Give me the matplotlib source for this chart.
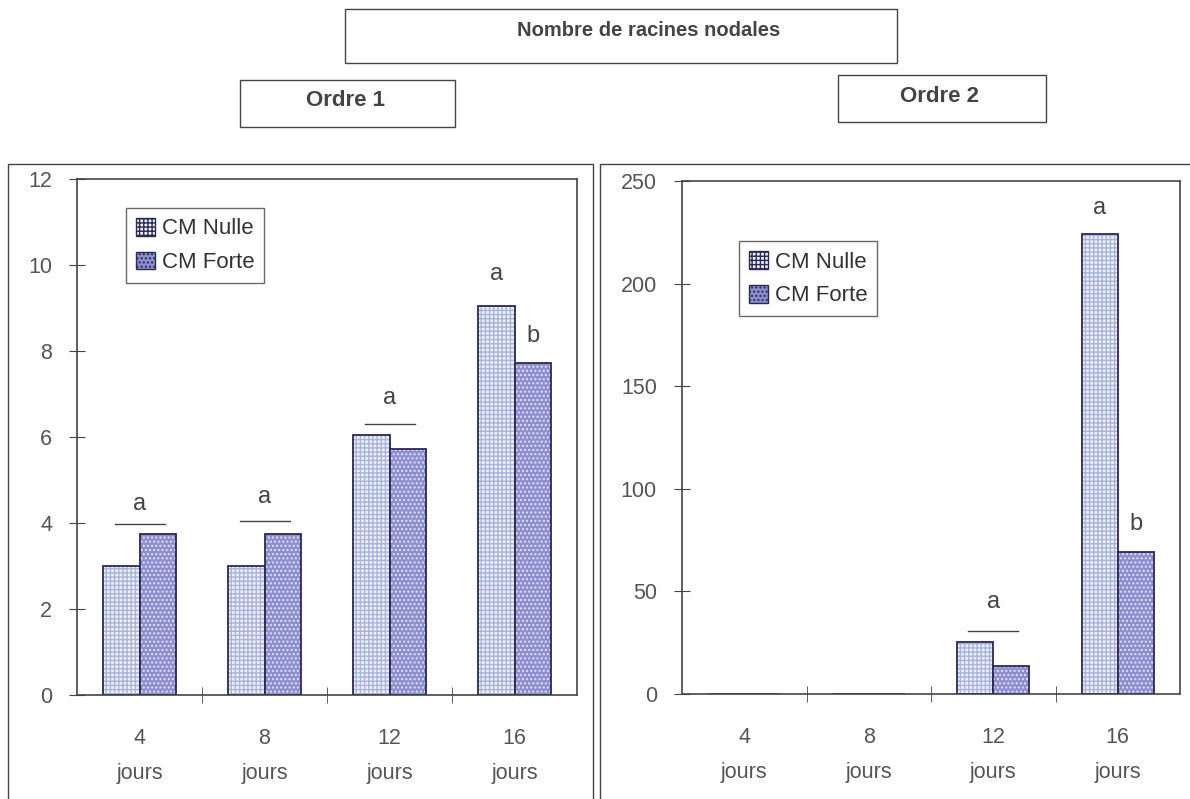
import matplotlib.pyplot as plt
import numpy as np
from matplotlib.patches import Rectangle

plt.rcParams['font.family'] = ['Liberation Sans', 'DejaVu Sans']

days = ['4\njours', '8\njours', '12\njours', '16\njours']
series = ['CM Nulle', 'CM Forte']

# Ordre 1
o1_nulle = [3.0, 3.0, 6.05, 9.05]
o1_forte = [3.75, 3.75, 5.72, 7.72]
# Ordre 2
o2_nulle = [0, 0, 25.5, 224]
o2_forte = [0, 0, 13.5, 69]

# significance letters: (category, offset from centre, height, letter, line height)
o1_letters = [(0, 0, 4.45, 'a', 3.97), (1, 0, 4.6, 'a', 4.05),
              (2, 0, 6.9, 'a', 6.3), (3, -0.145, 9.8, 'a', None),
              (3, 0.145, 8.35, 'b', None)]
o2_letters = [(2, 0, 45, 'a', 30.5), (3, -0.145, 237, 'a', None),
              (3, 0.145, 83, 'b', None)]

c_text = '#555555'
c_edge = '#2a2a55'

fig = plt.figure(figsize=(11.9, 7.99), dpi=100)


def fig_box(x0, y0, x1, y1, lw=1.0):
    # pixel coords (top-left origin) -> figure fraction
    W, H = 1190, 799
    fig.patches.append(Rectangle((x0 / W, 1 - y1 / H), (x1 - x0) / W, (y1 - y0) / H,
                                 transform=fig.transFigure, fill=False,
                                 edgecolor='#444444', lw=lw))


# header boxes
fig_box(345, 9, 897, 63)
fig.text(649 / 1190, 1 - 30 / 799, 'Nombre de racines nodales', ha='center', va='center',
         fontsize=14.5, fontweight='bold', color='#444444')
fig_box(240, 80, 455, 127)
fig.text(345 / 1190, 1 - 101 / 799, 'Ordre 1', ha='center', va='center',
         fontsize=16, fontweight='bold', color='#444444')
fig_box(838, 75, 1046, 122)
fig.text(940 / 1190, 1 - 96 / 799, 'Ordre 2', ha='center', va='center',
         fontsize=16, fontweight='bold', color='#444444')
# panel frames
fig_box(8, 164, 593, 805)
fig_box(600, 164, 1195, 805)


def panel(rect, nulle, forte, ymax, ystep, letters, leg_anchor):
    ax = fig.add_axes(rect)
    x = np.arange(len(days))
    w = 0.29
    # Nulle: light grid
    ax.bar(x - w / 2, nulle, w, color='#eef1fa', edgecolor='#a9b3dc', hatch='++++', lw=0)
    ax.bar(x - w / 2, nulle, w, fill=False, edgecolor=c_edge, lw=1.3)
    # Forte: dark speckle
    ax.bar(x + w / 2, forte, w, color='#8c8ed0', edgecolor='#e4e4f6', hatch='....', lw=0)
    ax.bar(x + w / 2, forte, w, fill=False, edgecolor=c_edge, lw=1.3)

    for cat, off, h, lab, line in letters:
        ax.text(cat + off, h, lab, ha='center', va='center', fontsize=17, color='#444444')
        if line is not None:
            ax.plot([cat - 0.2, cat + 0.2], [line, line], color='#444444', lw=1)

    ax.set_xlim(-0.5, len(days) - 0.5)
    ax.set_ylim(0, ymax)
    ax.set_yticks(np.arange(0, ymax + 1, ystep))
    ax.set_xticks(x, days)
    ax.set_xticks(np.arange(0.5, len(days) - 1, 1), minor=True)
    ax.tick_params(axis='x', which='major', length=0, pad=24, labelsize=15.5,
                   labelcolor=c_text)
    ax.tick_params(axis='x', which='minor', direction='inout', length=12,
                   color='#444444')
    ax.tick_params(axis='y', direction='inout', length=12, pad=12, labelsize=15.5,
                   labelcolor=c_text, color='#444444')
    for lab in ax.get_xticklabels():
        lab.set_linespacing(1.85)
    for sp in ax.spines.values():
        sp.set_color('#444444')
        sp.set_linewidth(1.2)

    # legend proxies
    h1 = Rectangle((0, 0), 1, 1, facecolor='#eef1fa', edgecolor=c_edge, hatch='++++', lw=1)
    h2 = Rectangle((0, 0), 1, 1, facecolor='#8c8ed0', edgecolor=c_edge, hatch='....', lw=1)
    leg = ax.legend([h1, h2], series, loc='upper left', bbox_to_anchor=leg_anchor,
                    fontsize=16, frameon=True, fancybox=False, handlelength=0.85,
                    handleheight=0.85, handletextpad=0.3, labelspacing=0.55,
                    borderpad=0.45, borderaxespad=0)
    leg.get_frame().set_edgecolor('#444444')
    leg.get_frame().set_linewidth(1.0)
    for t in leg.get_texts():
        t.set_color('#333333')
    return ax


panel([77 / 1190, 1 - 695 / 799, 500 / 1190, 516 / 799], o1_nulle, o1_forte, 12, 2,
      o1_letters, (0.098, 0.944))
panel([682 / 1190, 1 - 694 / 799, 498 / 1190, 513 / 799], o2_nulle, o2_forte, 250, 50,
      o2_letters, (0.1145, 0.883))

fig.savefig('out.png', dpi=100)
